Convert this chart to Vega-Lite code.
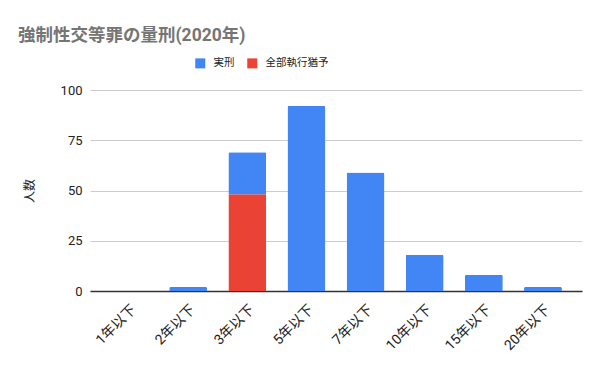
{
  "$schema": "https://vega.github.io/schema/vega-lite/v6.json",
  "width": 492,
  "height": 201,
  "autosize": {"type": "none"},
  "padding": {"left": 90, "top": 90, "right": 18, "bottom": 80},
  "background": "white",
  "title": {
    "text": "強制性交等罪の量刑(2020年)",
    "anchor": "start",
    "frame": "group",
    "dx": -72,
    "offset": 14,
    "font": "Roboto, Noto Sans CJK JP",
    "fontSize": 17.5,
    "fontWeight": "bold",
    "color": "#757575"
  },
  "data": {
    "values": [
      {"category": "1年以下", "type": "実刑", "count": 0},
      {"category": "2年以下", "type": "実刑", "count": 2},
      {"category": "3年以下", "type": "実刑", "count": 21},
      {"category": "5年以下", "type": "実刑", "count": 92},
      {"category": "7年以下", "type": "実刑", "count": 59},
      {"category": "10年以下", "type": "実刑", "count": 18},
      {"category": "15年以下", "type": "実刑", "count": 8},
      {"category": "20年以下", "type": "実刑", "count": 2},
      {"category": "3年以下", "type": "全部執行猶予", "count": 48}
    ]
  },
  "mark": {"type": "bar", "cornerRadiusTopLeft": 1.5, "cornerRadiusTopRight": 1.5},
  "encoding": {
    "x": {
      "field": "category",
      "type": "nominal",
      "sort": ["1年以下", "2年以下", "3年以下", "5年以下", "7年以下", "10年以下", "15年以下", "20年以下"],
      "scale": {"paddingInner": 0.36, "paddingOuter": 0.34},
      "axis": {
        "title": null,
        "labelAngle": -45,
        "labelFontSize": 14,
        "labelColor": "#222222",
        "labelPadding": 11,
        "ticks": false,
        "domainColor": "#333333",
        "domainWidth": 1.5
      }
    },
    "y": {
      "field": "count",
      "type": "quantitative",
      "stack": "zero",
      "scale": {"domain": [0, 100]},
      "axis": {
        "title": "人数",
        "values": [0, 25, 50, 75, 100],
        "domain": false,
        "ticks": false,
        "labelPadding": 8,
        "labelFontSize": 13,
        "labelColor": "#222222",
        "titleFontSize": 12,
        "titleFontWeight": "normal",
        "titleColor": "#222222",
        "titlePadding": 24,
        "gridColor": "#cccccc"
      }
    },
    "color": {
      "field": "type",
      "type": "nominal",
      "scale": {"domain": ["実刑", "全部執行猶予"], "range": ["#4285f4", "#ea4335"]},
      "legend": {
        "title": null,
        "orient": "none",
        "direction": "horizontal",
        "legendX": 105,
        "legendY": -32,
        "symbolType": "square",
        "symbolSize": 100,
        "symbolStrokeWidth": 0,
        "symbolOpacity": 1,
        "labelFontSize": 10.5,
        "labelColor": "#222222",
        "labelOffset": 8,
        "columnPadding": 12
      }
    },
    "order": {"field": "type", "sort": "ascending"}
  },
  "config": {
    "font": "Roboto, Noto Sans CJK JP",
    "view": {"stroke": null}
  }
}
